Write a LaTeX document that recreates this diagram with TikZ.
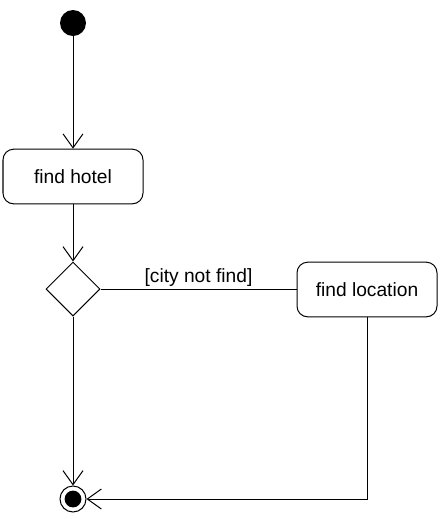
\documentclass[tikz,border=0pt]{standalone}
\usepackage{fontspec}
\setmainfont{Liberation Sans}
\usetikzlibrary{shapes.geometric,arrows.meta}

\tikzset{
  flow/.style={line width=0.75pt,-{Straight Barb[length=10.5pt,width=15pt,line width=0.75pt]}},
  link/.style={line width=0.75pt},
  activity/.style={draw,line width=0.75pt,rectangle,rounded corners=8pt,minimum width=105pt,minimum height=41pt,inner sep=0pt,font=\fontsize{14.4}{17}\selectfont},
  choice/.style={draw,line width=0.75pt,diamond,minimum width=40.5pt,minimum height=40.5pt,inner sep=0pt},
  startdot/.style={circle,fill=black,minimum size=19.5pt,inner sep=0pt},
  endring/.style={circle,draw,line width=0.75pt,minimum size=19.5pt,inner sep=0pt}
}

\begin{document}
\begin{tikzpicture}[x=0.75pt,y=0.75pt,yscale=-1,xscale=1]
\useasboundingbox (0,0) rectangle (445,519);

% Nodes
\node [startdot] (start) at (73,23) {};
\node [activity] (hotel) at (73,176.5) {find hotel};
\node [choice] (branch) at (73,289) {};
\node [activity] (locate) at (367,289.5) {find location};
\node [endring] (finish) at (73,499) {};
\fill (finish.center) circle (6.3pt);

% Connectors
\draw [flow] (start) -- (hotel);
\draw [flow] (hotel) -- (branch);
\draw [link] (branch.east) -- node [above,inner sep=1.5pt,font=\fontsize{14.4}{17}\selectfont] {[city not find]} (locate.west |- branch.east);
\draw [flow] (branch) -- (finish);
\draw [flow] (locate) |- (finish);

\end{tikzpicture}
\end{document}
